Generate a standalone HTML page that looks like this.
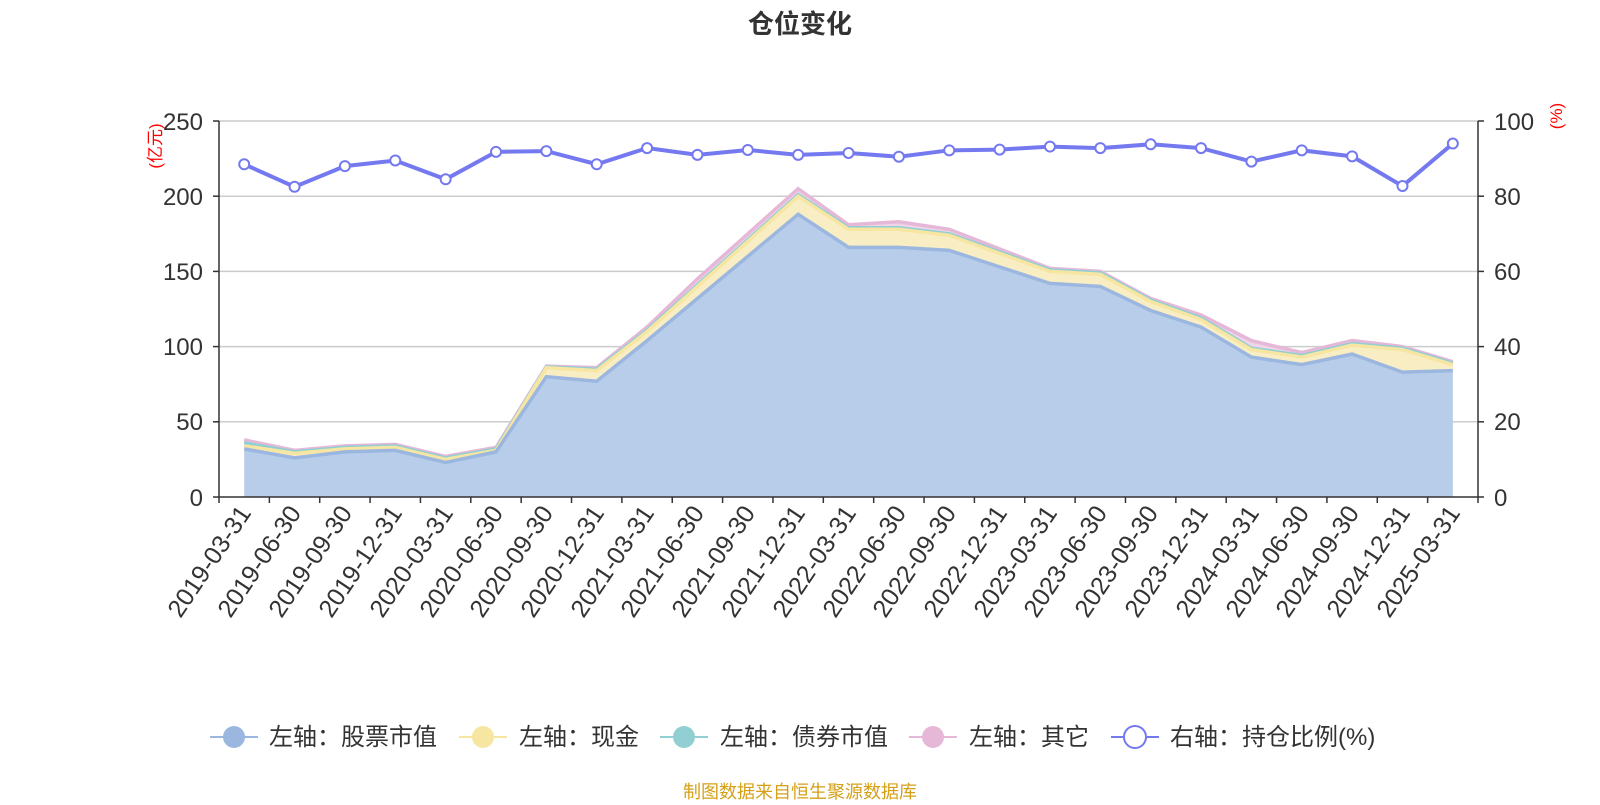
<!DOCTYPE html>
<html><head><meta charset="utf-8"><style>
body{margin:0;background:#fff;width:1600px;height:800px;overflow:hidden;font-family:"Liberation Sans","Noto Sans CJK SC",sans-serif}
</style></head><body>
<svg id="s" width="1600" height="800" xmlns="http://www.w3.org/2000/svg" font-family="Liberation Sans, Noto Sans CJK SC, sans-serif">
<text x="800" y="33" text-anchor="middle" font-size="26" font-weight="bold" fill="#333">仓位变化</text>
<g stroke="#ccc" stroke-width="1.5">
<line x1="219" x2="1478" y1="121" y2="121"/><line x1="219" x2="1478" y1="196.2" y2="196.2"/>
<line x1="219" x2="1478" y1="271.4" y2="271.4"/><line x1="219" x2="1478" y1="346.6" y2="346.6"/>
<line x1="219" x2="1478" y1="421.8" y2="421.8"/>
</g>
<g id="areas"></g>
<g stroke="#333" stroke-width="1.5">
<line x1="219" x2="219" y1="121" y2="497"/><line x1="1478" x2="1478" y1="121" y2="497"/>
<line x1="219" x2="1478" y1="497" y2="497"/>
<line x1="213" x2="219" y1="121" y2="121"/><line x1="213" x2="219" y1="196.2" y2="196.2"/><line x1="213" x2="219" y1="271.4" y2="271.4"/><line x1="213" x2="219" y1="346.6" y2="346.6"/><line x1="213" x2="219" y1="421.8" y2="421.8"/><line x1="213" x2="219" y1="497" y2="497"/>
<line x1="1478" x2="1484" y1="121" y2="121"/><line x1="1478" x2="1484" y1="196.2" y2="196.2"/><line x1="1478" x2="1484" y1="271.4" y2="271.4"/><line x1="1478" x2="1484" y1="346.6" y2="346.6"/><line x1="1478" x2="1484" y1="421.8" y2="421.8"/><line x1="1478" x2="1484" y1="497" y2="497"/>
</g>
<g id="ticks" stroke="#333" stroke-width="1.5"></g>
<g font-size="24" fill="#333" text-anchor="end">
<text x="203" y="130">250</text><text x="203" y="205">200</text><text x="203" y="280">150</text><text x="203" y="355">100</text><text x="203" y="430">50</text><text x="203" y="506">0</text>
</g>
<g font-size="24" fill="#333">
<text x="1494" y="130">100</text><text x="1494" y="205">80</text><text x="1494" y="280">60</text><text x="1494" y="355">40</text><text x="1494" y="430">20</text><text x="1494" y="506">0</text>
</g>
<text transform="translate(161,146) rotate(-90)" font-size="17" fill="red" text-anchor="middle">(亿元)</text>
<text transform="translate(1562,116) rotate(-90)" font-size="17" fill="red" text-anchor="middle">(%)</text>
<g font-size="25" fill="#333" text-anchor="end">
<text transform="translate(252,513) rotate(-56)">2019-03-31</text>
<text transform="translate(302,513) rotate(-56)">2019-06-30</text>
<text transform="translate(353,513) rotate(-56)">2019-09-30</text>
<text transform="translate(403,513) rotate(-56)">2019-12-31</text>
<text transform="translate(454,513) rotate(-56)">2020-03-31</text>
<text transform="translate(504,513) rotate(-56)">2020-06-30</text>
<text transform="translate(554,513) rotate(-56)">2020-09-30</text>
<text transform="translate(605,513) rotate(-56)">2020-12-31</text>
<text transform="translate(655,513) rotate(-56)">2021-03-31</text>
<text transform="translate(705,513) rotate(-56)">2021-06-30</text>
<text transform="translate(756,513) rotate(-56)">2021-09-30</text>
<text transform="translate(806,513) rotate(-56)">2021-12-31</text>
<text transform="translate(857,513) rotate(-56)">2022-03-31</text>
<text transform="translate(907,513) rotate(-56)">2022-06-30</text>
<text transform="translate(957,513) rotate(-56)">2022-09-30</text>
<text transform="translate(1008,513) rotate(-56)">2022-12-31</text>
<text transform="translate(1058,513) rotate(-56)">2023-03-31</text>
<text transform="translate(1108,513) rotate(-56)">2023-06-30</text>
<text transform="translate(1159,513) rotate(-56)">2023-09-30</text>
<text transform="translate(1209,513) rotate(-56)">2023-12-31</text>
<text transform="translate(1260,513) rotate(-56)">2024-03-31</text>
<text transform="translate(1310,513) rotate(-56)">2024-06-30</text>
<text transform="translate(1360,513) rotate(-56)">2024-09-30</text>
<text transform="translate(1411,513) rotate(-56)">2024-12-31</text>
<text transform="translate(1461,513) rotate(-56)">2025-03-31</text>
</g>
<g font-size="24" fill="#333">
<line x1="210" x2="258" y1="737" y2="737" stroke="#9bb7e0" stroke-width="2"/><circle cx="234" cy="737" r="11" fill="#9bb7e0"/>
<text x="269" y="745">左轴：股票市值</text>
<line x1="459" x2="507" y1="737" y2="737" stroke="#f5e6a3" stroke-width="2"/><circle cx="483" cy="737" r="11" fill="#f7e5a2"/>
<text x="519" y="745">左轴：现金</text>
<line x1="660" x2="708" y1="737" y2="737" stroke="#91cfd3" stroke-width="2"/><circle cx="684" cy="737" r="11" fill="#91cfd3"/>
<text x="720" y="745">左轴：债券市值</text>
<line x1="909" x2="957" y1="737" y2="737" stroke="#e6b8d8" stroke-width="2"/><circle cx="933" cy="737" r="11" fill="#e6b8d8"/>
<text x="969" y="745">左轴：其它</text>
<line x1="1111" x2="1159" y1="737" y2="737" stroke="#7479f0" stroke-width="2"/><circle cx="1135" cy="737" r="11" fill="#fff" stroke="#7479f0" stroke-width="2"/>
<text x="1170" y="745">右轴：持仓比例(%)</text>
</g>
<text x="800" y="798" text-anchor="middle" font-size="18" fill="#d4a017">制图数据来自恒生聚源数据库</text>
</svg>
<script>
var NS="http://www.w3.org/2000/svg";
var stock=[32,26,30,31,23,30,80,77,104,132,160,188,166,166,164,153,142,140,124,113,93,88,95,83,84];
var cash=[34,29,32,33,25,31,86,84,110,140,170,200,178,178,174,162,150,148,130,118,98,93,101,98,88];
var bond=[36,30,33,34,26,32,86.5,85,111,141,171,201,179,179,175,163,151,149,131,119,99,94,102,99,89];
var other=[38,31,34,35,27,33,87,86,113,145,175,205,181,183,178,165,152,150,132,121,104,96,104,100,90];
var ratio=[88.5,82.5,88,89.5,84.5,91.8,92,88.5,92.8,91,92.3,91,91.5,90.5,92.2,92.4,93.2,92.8,93.8,92.8,89.2,92.2,90.6,82.7,94];
function X(i){return 244.2+50.36*i}
function Y(v){return 497-v*1.504}
function YR(v){return 497-v*3.76}
var g=document.getElementById('areas');
function el(n,a){var e=document.createElementNS(NS,n);for(var k in a)e.setAttribute(k,a[k]);g.appendChild(e);return e}
function area(top,bot,fill,stroke){
 var d="M"+X(0)+","+Y(top[0]);for(var i=1;i<25;i++)d+="L"+X(i)+","+Y(top[i]);
 for(var i=24;i>=0;i--)d+="L"+X(i)+","+(bot?Y(bot[i]):497);
 el('path',{d:d+"Z",fill:fill,stroke:"none"});
 var l="M"+X(0)+","+Y(top[0]);for(var i=1;i<25;i++)l+="L"+X(i)+","+Y(top[i]);
 el('path',{d:l,fill:"none",stroke:stroke,"stroke-width":3.5});
}
area(other,bond,"#f0d4e8","#e6b8d8");
area(bond,cash,"#c7e6e8","#91cfd3");
area(cash,stock,"#f9edc3","#f7e5a2");
area(stock,null,"#b8cdea","#9bb7e0");
var l="M"+X(0)+","+YR(ratio[0]);for(var i=1;i<25;i++)l+="L"+X(i)+","+YR(ratio[i]);
el('path',{d:l,fill:"none",stroke:"#7479f0","stroke-width":4});
for(var i=0;i<25;i++)el('circle',{cx:X(i),cy:YR(ratio[i]),r:5,fill:"#fff",stroke:"#7479f0","stroke-width":2});
var t=document.getElementById('ticks');
for(var k=0;k<=25;k++){var x=219+50.36*k;var e=document.createElementNS(NS,'line');e.setAttribute('x1',x);e.setAttribute('x2',x);e.setAttribute('y1',497);e.setAttribute('y2',503);t.appendChild(e);}
</script>
</body></html>
